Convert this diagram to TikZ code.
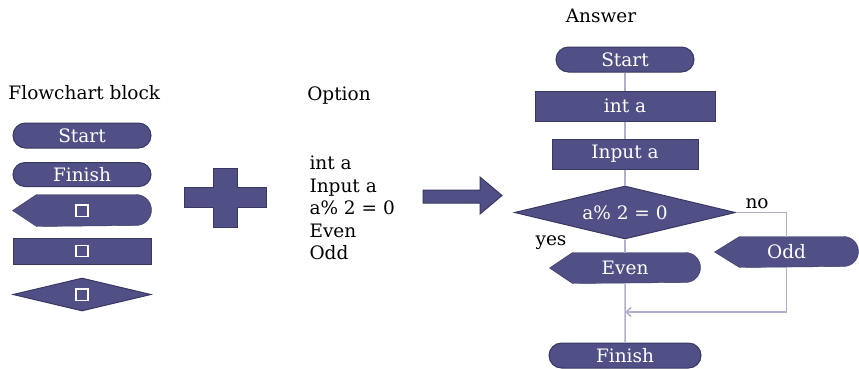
\documentclass[tikz,border=0pt]{standalone}
\usepackage{fontspec}
\setmainfont{DejaVu Serif}
\usetikzlibrary{arrows.meta,shapes.geometric,shapes.misc,backgrounds}
\definecolor{blockfill}{RGB}{80,80,134}
\definecolor{blockline}{RGB}{56,56,98}
\definecolor{flowline}{RGB}{176,176,206}
\newcommand{\sqmark}{{\fboxrule=1.3pt\fboxsep=0pt\fbox{\rule{0pt}{10pt}\hspace{10.5pt}}}}

\begin{document}
\begin{tikzpicture}[x=1pt,y=-1pt,line width=1pt,
  font=\fontsize{18.5}{22.6}\selectfont,
  termbox/.style={rounded rectangle,draw=blockline,fill=blockfill,text=white,minimum height=25pt,inner sep=0pt},
  procbox/.style={draw=blockline,fill=blockfill,text=white,minimum height=30pt,inner sep=0pt},
  decbox/.style={diamond,aspect=4.2,draw=blockline,fill=blockfill,text=white,inner sep=0pt},
  dispbox/.style={text=white,minimum height=30pt,inner sep=0pt},
  flow/.style={draw=flowline,line width=1.5pt},
  >={Straight Barb[length=5pt,width=9pt]}]
  \useasboundingbox (0,0) rectangle (859,368);
  % --- bloques disponibles ---
  \node[anchor=west,inner sep=0pt] (blktitle) at (8,93) {Flowchart block};
  \node[termbox,minimum width=138pt] (blkstart) at (82,135.5) {Start};
  \node[termbox,minimum width=138pt,minimum height=24pt] (blkfinish) at (82,174.5) {Finish};
  \node[dispbox,minimum width=138pt,minimum height=31pt] (blkdisp) at (82,210.5) {\sqmark};
  \node[procbox,minimum width=138pt,minimum height=26pt] (blkproc) at (82,251) {\sqmark};
  \node[decbox,minimum width=138pt,minimum height=33pt] (blkdec) at (82,294.5) {\sqmark};
  % --- signo mas y flecha ---
  \filldraw[fill=blockfill,draw=blockline] (184,187)--(213,187)--(213,168)--(237,168)--(237,187)--(266,187)
    --(266,207)--(237,207)--(237,227)--(213,227)--(213,207)--(184,207)--cycle;
  \filldraw[fill=blockfill,draw=blockline] (423,190)--(480,190)--(480,177)--(502,195.5)--(480,214)--(480,203)--(423,203)--cycle;
  % --- opciones ---
  \node (opttitle) at (339,96) {Option};
  \node[anchor=west,align=left,inner sep=0pt] (optlist) at (309,208) {int a\\Input a\\a\% 2 = 0\\Even\\Odd};
  % --- respuesta ---
  \node (anstitle) at (601,16) {Answer};
  \node[termbox,minimum width=138pt] (start) at (625,59.5) {Start};
  \node[procbox,minimum width=180pt] (inta) at (625,106) {int a};
  \node[procbox,minimum width=146pt] (inputa) at (625,154) {Input a};
  \node[decbox,minimum width=221pt,minimum height=53pt] (check) at (625,212.5) {a\% 2 = 0};
  \node[dispbox,minimum width=150pt] (even) at (625,268) {Even};
  \node[dispbox,minimum width=143pt] (odd) at (786.5,252) {Odd};
  \node[termbox,minimum width=152pt] (finish) at (625,355.5) {Finish};
  \node[anchor=west,inner sep=0pt] (nolbl) at (745,204) {no};
  \node[inner sep=0pt] (yeslbl) at (551,243) {yes};
  \coordinate (join) at (625,312);
  \begin{scope}[on background layer]
    \foreach \n/\s/\r in {blkdisp/24/15.5,even/23/15,odd/25/15}
      \filldraw[fill=blockfill,draw=blockline] (\n.west) -- ([xshift=\s pt]\n.north west) -- ([xshift=-\r pt]\n.north east)
        arc[start angle=90,end angle=-90,radius=\r pt] -- ([xshift=\s pt]\n.south west) -- cycle;
  \end{scope}
  % --- conectores ---
  \draw[flow] (start) -- (inta);
  \draw[flow] (inta) -- (inputa);
  \draw[flow] (inputa) -- (check);
  \draw[flow] (check) -- (even);
  \draw[flow] (even) -- (finish);
  \draw[flow] (check.east) -| (odd.north);
  \draw[flow,->] (odd.south) |- (join);
\end{tikzpicture}
\end{document}
